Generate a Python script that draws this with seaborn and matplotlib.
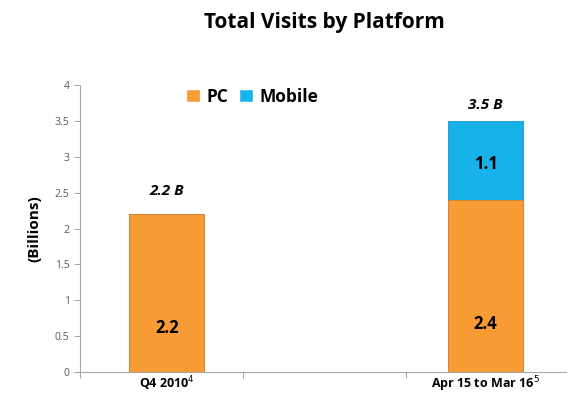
import numpy as np
import pandas as pd
import matplotlib
matplotlib.use("Agg")
import matplotlib.pyplot as plt
import seaborn as sns
from matplotlib.patches import Patch

sns.set_style("white")
plt.rcParams["font.family"] = ["Open Sans", "DejaVu Sans"]
plt.rcParams["text.color"] = "black"

# data
categories = ["Q4 2010", "", "Apr 15 to Mar 16"]
tick_labels = ["Q4 2010$^4$", "", "Apr 15 to Mar 16$^5$"]
pc = [2.2, np.nan, 2.4]
mobile = [0.0, np.nan, 1.1]
totals = [2.2, np.nan, 3.5]

orange = "#F89B35"
blue = "#17B2E9"

df = pd.DataFrame({"cat": categories, "pc": pc, "mobile": mobile})
df["total"] = df["pc"] + df["mobile"]

fig = plt.figure(figsize=(5.69, 4.03), dpi=100)
ax = fig.add_axes([0.1406, 0.077, 0.855, 0.712])

# stacked bars: total in blue, PC over it in orange
sns.barplot(data=df, x="cat", y="total", color=blue, width=0.47,
            saturation=1, ax=ax, edgecolor="#1593c2", linewidth=0.6)
sns.barplot(data=df, x="cat", y="pc", color=orange, width=0.47,
            saturation=1, ax=ax, edgecolor="#d9822a", linewidth=0.6)

ax.set_ylim(0, 4)
ax.set_xlim(-0.545, 2.508)
ax.set_yticks(np.arange(0, 4.01, 0.5))
ax.set_yticklabels(["0", "0.5", "1", "1.5", "2", "2.5", "3", "3.5", "4"],
                   color="#595959", fontsize=7.5)
ax.tick_params(axis="y", length=4, color="#a6a6a6", left=True, width=0.8)

# category boundaries as major ticks, labels on minor ticks
ax.set_xticks([-0.545, 0.48, 1.5])
ax.set_xticklabels([])
ax.set_xticks([0, 1, 2], minor=True)
ax.set_xticklabels(tick_labels, minor=True, fontsize=9, fontweight="bold", color="black")
ax.tick_params(axis="x", which="major", length=4, color="#a6a6a6", bottom=True, width=0.8)
ax.tick_params(axis="x", which="minor", length=0, pad=2)
ax.set_xlabel("")
ax.set_ylabel("(Billions)", fontsize=11, fontweight="bold", labelpad=10, color="black")

for s in ["top", "right"]:
    ax.spines[s].set_visible(False)
for s in ["left", "bottom"]:
    ax.spines[s].set_color("#a6a6a6")
    ax.spines[s].set_linewidth(0.8)

# value labels
total_offset = [0.22, 0, 0.13]
for i in range(len(categories)):
    if np.isnan(pc[i]):
        continue
    ax.text(i, pc[i] * 0.28, f"{pc[i]:.1f}", ha="center", va="center",
            fontsize=12, fontweight="bold")
    if mobile[i] > 0:
        ax.text(i, pc[i] + mobile[i] * 0.45, f"{mobile[i]:.1f}", ha="center",
                va="center", fontsize=12, fontweight="bold")
    ax.text(i, totals[i] + total_offset[i], f"{totals[i]:.1f} B", ha="center",
            va="bottom", fontsize=11, fontweight="bold", style="italic")

handles = [Patch(facecolor=orange, label="PC"), Patch(facecolor=blue, label="Mobile")]
leg = ax.legend(handles=handles, loc="upper left", bbox_to_anchor=(0.185, 1.045),
                ncol=2, frameon=False, handlelength=0.8, handleheight=0.8,
                handletextpad=0.4, columnspacing=0.6,
                prop={"weight": "bold", "size": 12.5})

fig.text(0.57, 0.943, "Total Visits by Platform", ha="center", va="center",
         fontsize=15, fontweight="bold")

fig.savefig("out.png", dpi=100)
